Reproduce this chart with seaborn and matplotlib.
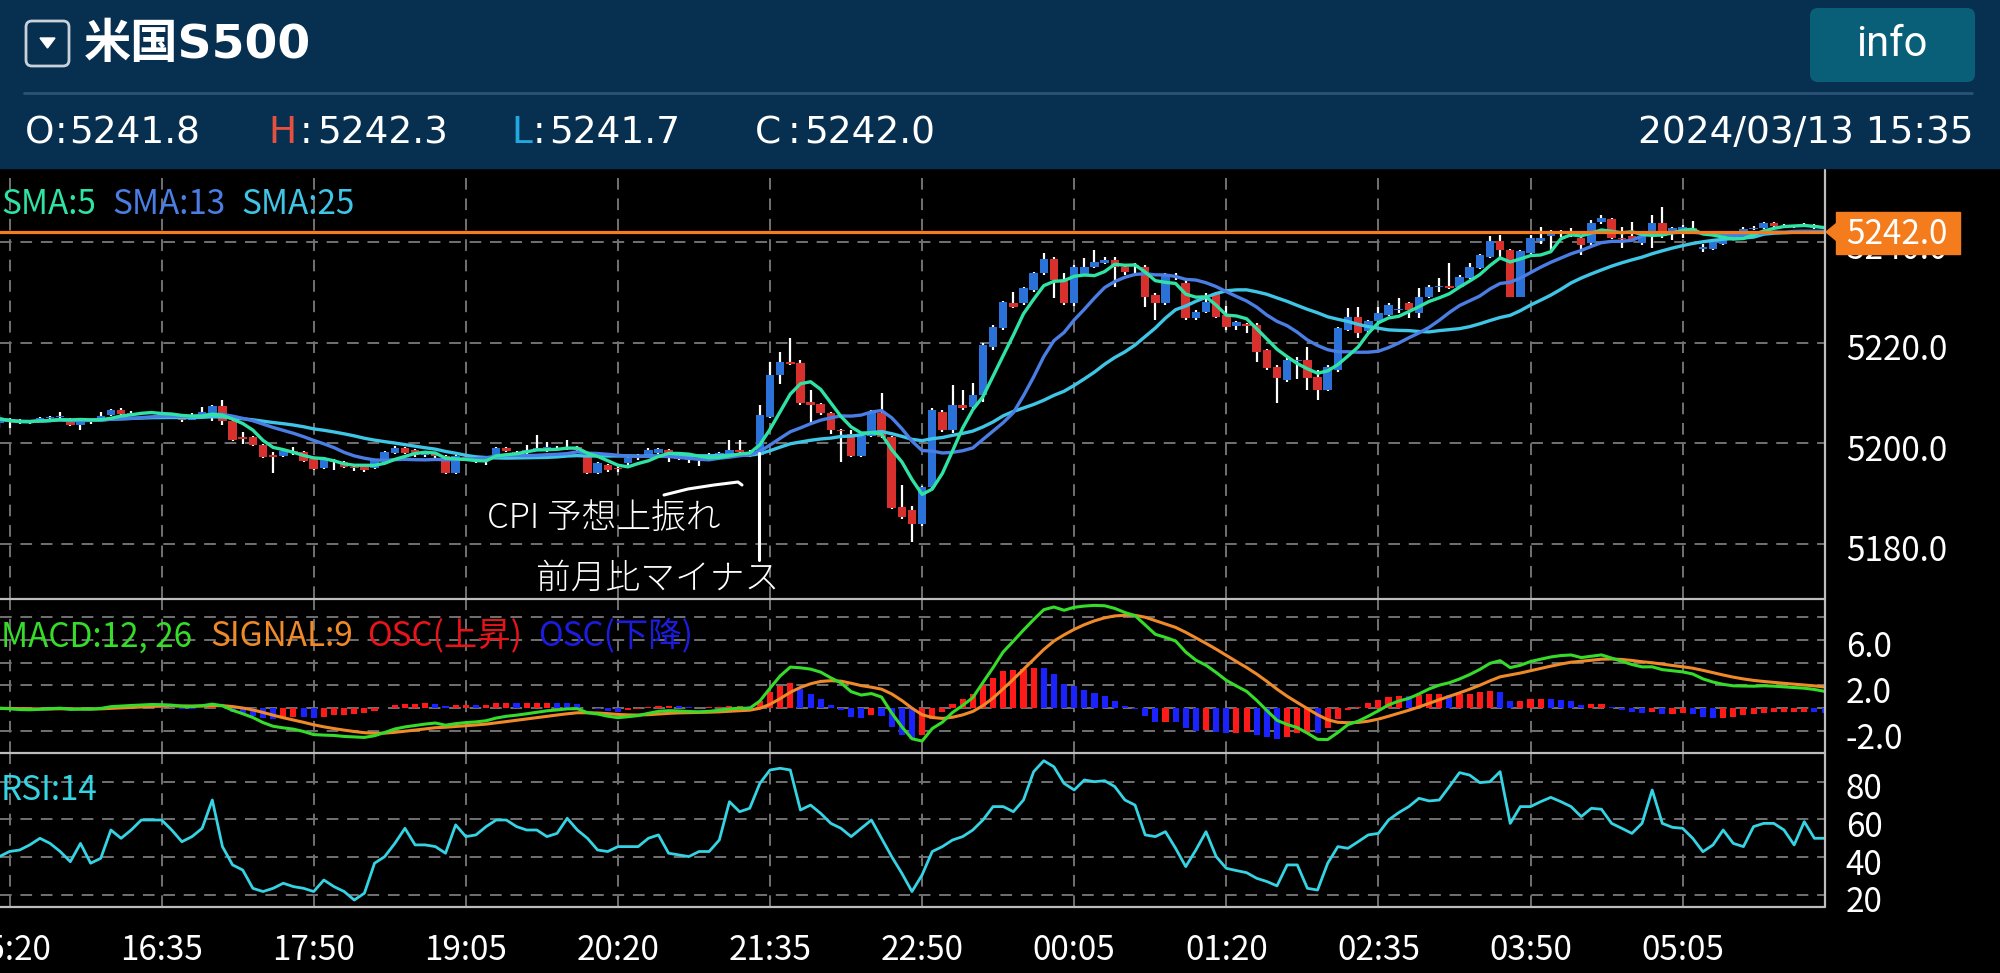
import numpy as np
import pandas as pd
import matplotlib
matplotlib.use("Agg")
import matplotlib.pyplot as plt
from matplotlib.patches import Rectangle, FancyBboxPatch, Polygon
from matplotlib.transforms import ScaledTranslation
import seaborn as sns

# ---------------- data (5-minute candles, index 0 = 15:20) ----------------
FIRST_INDEX = -1
OPEN = [
    5204.0, 5204.5, 5204.5, 5204.0, 5204.3, 5204.9, 5205.2, 5204.8, 5203.6, 5204.3, 5204.6,
    5205.6, 5206.6, 5205.8, 5205.9, 5206.0, 5206.0, 5205.5, 5205.1, 5204.6, 5205.4,
    5205.9, 5207.4, 5204.3, 5201.2, 5201.3, 5199.6, 5197.6, 5197.4, 5198.4, 5198.3,
    5196.8, 5195.0, 5196.4, 5196.3, 5195.3, 5195.4, 5195.0, 5196.6, 5198.0, 5199.1,
    5198.6, 5197.6, 5197.8, 5197.4, 5194.0, 5197.3, 5196.9, 5197.0, 5197.6, 5199.1,
    5198.3, 5198.2, 5198.8, 5199.0, 5199.1, 5198.9, 5199.2, 5197.2, 5194.0, 5195.6,
    5195.0, 5196.0, 5197.2, 5197.6, 5198.1, 5198.7, 5197.3, 5196.7, 5196.6, 5196.9,
    5197.2, 5197.9, 5198.7, 5198.3, 5197.6, 5205.2, 5213.5, 5216.2, 5216.0, 5208.2,
    5207.7, 5205.9, 5202.6, 5201.8, 5197.4, 5201.5, 5205.9, 5201.3, 5187.3, 5186.7,
    5184.0, 5191.3, 5206.2, 5202.6, 5207.6, 5207.2, 5209.5, 5219.2, 5222.8, 5227.9,
    5227.8, 5230.4, 5233.8, 5236.7, 5232.4, 5227.8, 5233.4, 5235.1, 5235.8, 5236.4,
    5235.1, 5235.3, 5235.1, 5229.5, 5227.8, 5233.2, 5231.8, 5224.8, 5226.1, 5229.8,
    5225.5, 5223.2, 5223.6, 5223.5, 5218.5, 5215.2, 5212.5, 5216.3, 5216.5, 5213.2,
    5210.6, 5214.5, 5222.5, 5225.1, 5222.2, 5224.2, 5225.5, 5226.5, 5227.8, 5225.8,
    5229.1, 5231.0, 5231.3, 5231.1, 5232.8, 5234.8, 5237.1, 5240.1, 5238.4, 5229.1,
    5237.8, 5240.1, 5241.1, 5241.5, 5242.0, 5240.7, 5239.7, 5244.0, 5244.5, 5240.8,
    5241.1, 5239.7, 5241.7, 5243.7, 5242.1, 5242.1, 5242.7, 5238.6, 5238.5, 5239.6,
    5240.8, 5241.5, 5242.6, 5242.8, 5243.7, 5243.2, 5243.0, 5243.2, 5243.3, 5241.8,
]
HIGH = [
    5205.5, 5205.0, 5204.7, 5204.4, 5205.2, 5205.4, 5206.2, 5204.9, 5204.9, 5204.8, 5206.2,
    5206.8, 5206.9, 5206.3, 5206.2, 5206.4, 5206.2, 5205.7, 5205.3, 5206.0, 5207.2,
    5207.6, 5208.6, 5204.5, 5202.3, 5201.5, 5199.8, 5198.3, 5198.8, 5199.3, 5198.5,
    5197.0, 5197.3, 5196.8, 5196.5, 5195.6, 5195.6, 5196.8, 5198.5, 5199.4, 5199.3,
    5198.9, 5198.3, 5198.2, 5197.6, 5197.6, 5197.6, 5197.0, 5197.3, 5199.2, 5199.3,
    5198.5, 5199.6, 5201.6, 5200.3, 5199.4, 5200.6, 5199.4, 5197.6, 5196.2, 5195.8,
    5195.3, 5197.2, 5197.9, 5199.0, 5199.1, 5198.9, 5197.4, 5196.9, 5196.9, 5198.1,
    5198.3, 5200.6, 5200.6, 5198.6, 5207.6, 5216.2, 5218.2, 5220.8, 5216.6, 5210.5,
    5208.0, 5206.2, 5202.9, 5202.6, 5201.8, 5206.6, 5209.9, 5201.5, 5191.6, 5187.5,
    5191.5, 5207.0, 5206.6, 5211.5, 5210.5, 5211.9, 5220.0, 5223.5, 5228.3, 5230.1,
    5231.1, 5234.1, 5237.7, 5237.0, 5233.8, 5235.4, 5236.8, 5238.4, 5237.1, 5237.0,
    5235.4, 5235.8, 5235.4, 5229.8, 5233.8, 5233.8, 5232.4, 5226.4, 5229.8, 5230.1,
    5227.3, 5224.3, 5223.8, 5223.8, 5218.8, 5215.5, 5216.9, 5217.2, 5219.2, 5214.5,
    5215.5, 5223.1, 5226.8, 5227.1, 5224.5, 5227.1, 5227.8, 5228.8, 5228.1, 5230.8,
    5231.4, 5232.8, 5235.8, 5233.4, 5235.8, 5237.6, 5241.1, 5241.4, 5238.6, 5238.3,
    5241.4, 5243.0, 5242.4, 5242.3, 5242.7, 5241.2, 5244.4, 5245.4, 5244.8, 5243.0,
    5244.0, 5241.3, 5245.4, 5247.0, 5243.0, 5243.3, 5244.2, 5239.6, 5240.2, 5240.8,
    5241.5, 5242.9, 5243.1, 5243.9, 5243.9, 5243.5, 5243.4, 5243.8, 5243.5, 5242.3,
]
LOW = [
    5203.0, 5203.0, 5203.7, 5203.8, 5204.1, 5204.7, 5205.0, 5203.3, 5202.7, 5203.8, 5204.4,
    5205.4, 5205.6, 5205.5, 5205.6, 5205.8, 5205.3, 5205.0, 5204.2, 5204.5, 5205.2,
    5204.3, 5203.6, 5200.5, 5199.9, 5199.4, 5197.0, 5194.0, 5197.2, 5197.6, 5196.3,
    5194.6, 5194.8, 5194.6, 5195.0, 5194.5, 5194.3, 5194.8, 5196.4, 5197.8, 5197.9,
    5197.3, 5197.2, 5197.0, 5193.8, 5193.8, 5196.5, 5196.0, 5195.6, 5197.4, 5198.3,
    5197.6, 5197.6, 5198.6, 5198.3, 5198.6, 5198.6, 5198.4, 5193.8, 5193.8, 5194.3,
    5194.3, 5195.7, 5196.6, 5197.4, 5197.9, 5196.3, 5196.6, 5196.0, 5195.4, 5196.6,
    5197.0, 5197.3, 5197.9, 5197.3, 5197.4, 5205.0, 5211.8, 5215.6, 5207.6, 5203.9,
    5205.6, 5201.9, 5196.3, 5197.3, 5197.2, 5201.3, 5201.0, 5186.8, 5185.0, 5180.4,
    5183.5, 5191.0, 5202.3, 5202.0, 5206.5, 5206.9, 5208.2, 5218.5, 5222.5, 5226.8,
    5227.5, 5230.1, 5233.5, 5228.8, 5227.5, 5227.3, 5233.2, 5234.9, 5235.6, 5231.1,
    5233.5, 5233.4, 5227.0, 5224.5, 5227.5, 5232.4, 5224.5, 5224.5, 5225.8, 5224.8,
    5222.5, 5222.5, 5221.8, 5216.2, 5214.6, 5207.9, 5212.2, 5212.8, 5210.6, 5208.6,
    5210.4, 5214.2, 5222.2, 5220.8, 5221.6, 5224.0, 5225.2, 5225.8, 5224.8, 5224.8,
    5228.8, 5230.1, 5230.6, 5230.9, 5232.6, 5234.6, 5236.9, 5237.1, 5229.0, 5229.0,
    5237.6, 5239.6, 5238.4, 5241.0, 5241.0, 5237.4, 5239.4, 5243.6, 5240.5, 5238.7,
    5240.2, 5239.4, 5238.7, 5240.8, 5240.4, 5240.7, 5241.9, 5238.0, 5238.3, 5239.4,
    5240.5, 5241.3, 5242.3, 5242.6, 5242.9, 5242.8, 5242.7, 5242.9, 5242.5, 5241.7,
]
CLOSE = [
    5204.8, 5204.2, 5203.9, 5204.2, 5204.9, 5205.1, 5205.3, 5203.5, 5204.7, 5204.5, 5205.3,
    5206.6, 5205.8, 5205.9, 5206.0, 5206.1, 5205.6, 5205.3, 5204.5, 5205.3, 5206.2,
    5207.4, 5204.3, 5200.7, 5200.9, 5199.6, 5197.2, 5197.3, 5198.5, 5198.2, 5196.5,
    5194.8, 5196.6, 5196.3, 5195.2, 5195.1, 5194.7, 5196.6, 5198.3, 5199.1, 5198.1,
    5197.6, 5197.8, 5197.5, 5194.0, 5197.4, 5197.0, 5196.7, 5197.2, 5199.0, 5198.5,
    5198.1, 5198.6, 5199.0, 5199.2, 5198.9, 5199.3, 5198.6, 5194.0, 5196.0, 5194.6,
    5194.8, 5197.0, 5197.3, 5198.7, 5198.9, 5197.9, 5196.9, 5196.6, 5196.7, 5197.4,
    5198.1, 5198.7, 5198.3, 5197.6, 5205.6, 5213.5, 5216.2, 5215.8, 5207.9, 5207.6,
    5205.9, 5202.7, 5202.4, 5197.5, 5201.5, 5206.2, 5201.3, 5187.0, 5185.4, 5184.0,
    5191.3, 5206.6, 5202.6, 5207.6, 5206.9, 5209.5, 5219.5, 5223.1, 5228.1, 5227.1,
    5230.8, 5233.8, 5236.7, 5232.4, 5227.8, 5235.1, 5235.1, 5236.1, 5236.4, 5235.1,
    5234.1, 5235.4, 5229.1, 5227.8, 5233.4, 5233.0, 5224.8, 5226.1, 5228.1, 5225.1,
    5223.1, 5224.0, 5223.3, 5218.2, 5214.9, 5212.9, 5216.6, 5216.5, 5212.9, 5210.6,
    5215.2, 5222.8, 5225.1, 5221.8, 5224.2, 5225.8, 5227.5, 5226.7, 5226.5, 5229.1,
    5231.0, 5231.1, 5230.8, 5233.1, 5235.1, 5237.4, 5240.1, 5238.4, 5229.1, 5238.1,
    5240.7, 5240.7, 5241.7, 5242.0, 5242.1, 5239.4, 5243.7, 5244.7, 5240.7, 5240.6,
    5240.4, 5241.1, 5243.7, 5241.1, 5242.7, 5243.0, 5242.1, 5239.0, 5240.0, 5240.6,
    5241.2, 5242.6, 5242.8, 5243.7, 5243.2, 5243.0, 5243.2, 5243.3, 5242.7, 5242.0,
]
RSI = [
    40.3, 43.0, 43.8, 46.5, 50.0, 47.3, 43.0, 37.6, 47.3, 36.8, 39.4,
    54.4, 50.0, 54.4, 59.7, 59.7, 59.7, 54.4, 48.2, 50.9, 55.3,
    70.3, 45.6, 35.9, 33.2, 23.5, 21.8, 23.5, 26.2, 24.4, 23.5,
    21.8, 27.9, 24.4, 21.8, 17.3, 20.9, 36.8, 40.3, 47.3, 55.3,
    46.5, 46.5, 45.6, 42.1, 57.1, 50.9, 51.8, 56.2, 59.7, 59.7,
    56.2, 54.4, 54.4, 50.9, 52.6, 60.6, 54.4, 50.0, 43.8, 43.0,
    45.6, 45.6, 45.6, 50.0, 51.8, 42.1, 41.2, 40.3, 43.0, 43.0,
    49.1, 69.4, 64.1, 65.9, 79.1, 86.2, 87.1, 86.2, 65.0, 67.6,
    63.2, 57.9, 55.3, 50.9, 55.3, 59.7, 50.0, 40.3, 31.5, 21.8,
    30.6, 43.0, 45.6, 49.1, 50.9, 54.4, 59.7, 66.8, 66.8, 64.1,
    70.3, 85.3, 91.1, 87.9, 79.1, 75.6, 80.9, 80.0, 80.5, 77.4,
    70.3, 67.6, 51.8, 50.9, 53.5, 44.7, 35.0, 43.8, 53.5, 40.3,
    34.1, 32.9, 31.8, 28.8, 27.1, 24.8, 35.9, 35.9, 23.5, 22.6,
    36.8, 45.6, 44.7, 48.2, 51.8, 52.6, 59.7, 63.6, 66.8, 71.2,
    69.8, 70.3, 77.4, 84.8, 83.5, 79.5, 80.0, 85.3, 57.9, 66.8,
    66.8, 69.4, 71.7, 69.4, 66.8, 61.5, 65.9, 65.4, 57.9, 55.3,
    52.6, 57.9, 75.6, 57.9, 55.8, 55.3, 50.0, 42.9, 46.5, 54.4,
    47.3, 45.6, 56.2, 57.9, 57.9, 54.4, 46.5, 58.8, 50.0, 50.0,
]
TIME_LABELS = ["15:20", "16:35", "17:50", "19:05", "20:20", "21:35",
               "22:50", "00:05", "01:20", "02:35", "03:50", "05:05"]
CANDLES_PER_LABEL = 15
PRICE_TICKS = [5180.0, 5200.0, 5220.0, 5240.0]
MACD_GRID = [-2.0, 0.0, 2.0, 4.0, 6.0, 8.0]
MACD_LABELED = [6.0, 2.0, -2.0]
RSI_TICKS = [20, 40, 60, 80]
LAST_PRICE = 5242.0
HEADER_OHLC = [("O", "5241.8"), ("H", "5242.3"), ("L", "5241.7"), ("C", "5242.0")]
TITLE = "米国S500"
STAMP = "2024/03/13 15:35"
NOTE_LINES = ["CPI 予想上振れ", "前月比マイナス"]

# ---------------- indicators ----------------
df = pd.DataFrame({"i": np.arange(len(CLOSE)) + FIRST_INDEX,
                   "open": OPEN, "high": HIGH, "low": LOW, "close": CLOSE, "rsi": RSI})
for n in (5, 13, 25):
    df[f"sma{n}"] = df["close"].rolling(n, min_periods=1).mean()
ema12 = df["close"].ewm(span=12, adjust=False).mean()
ema26 = df["close"].ewm(span=26, adjust=False).mean()
df["macd"] = ema12 - ema26
df["signal"] = df["macd"].ewm(span=9, adjust=False).mean()
df["osc"] = df["macd"] - df["signal"]

# ---------------- style ----------------
sns.set_style("dark", {"axes.facecolor": "black", "figure.facecolor": "black"})
plt.rcParams["font.family"] = ["Noto Sans CJK JP", "DejaVu Sans"]

W, H = 2000, 973
fig = plt.figure(figsize=(20, 9.73), dpi=100)
fig.patch.set_facecolor("black")


def rect(x0, y0, x1, y1):
    return [x0 / W, 1 - y1 / H, (x1 - x0) / W, (y1 - y0) / H]


PLOT_R = 1825
ax_p = fig.add_axes(rect(0, 170, PLOT_R, 598))
ax_m = fig.add_axes(rect(0, 600, PLOT_R, 753))
ax_r = fig.add_axes(rect(0, 753, PLOT_R, 907))

XMIN, XMAX = -9.5 / 10.14, (PLOT_R - 9.5) / 10.14
tick_pos = [k * CANDLES_PER_LABEL for k in range(len(TIME_LABELS))]

BLUE, RED = "#2a72d8", "#d8302c"
C_SMA5, C_SMA13, C_SMA25 = "#2fe3a4", "#4a7ee4", "#3fc6e6"
C_MACD, C_SIG = "#35dc2a", "#f08a28"
C_RSI = "#34d4e4"
GRID = dict(color="#727272", linestyle=(0, (6, 4.5)), linewidth=1.4)

# candles
up = df["close"] >= df["open"]
ax_p.vlines(df["i"], df["low"], df["high"], color="white", linewidth=1.6, zorder=2)
body_lo = np.minimum(df["open"], df["close"])
body_h = (df["close"] - df["open"]).abs().clip(lower=0.18)
ax_p.bar(df["i"], body_h, bottom=body_lo, width=0.84,
         color=np.where(up, BLUE, RED), linewidth=0, zorder=3)
for col, c in (("sma25", C_SMA25), ("sma13", C_SMA13), ("sma5", C_SMA5)):
    sns.lineplot(x=df["i"], y=df[col], ax=ax_p, color=c, linewidth=2.4, zorder=4)
ax_p.axhline(LAST_PRICE, color="#f47c1c", linewidth=2.3, zorder=5)
ax_p.set_ylim(5169.2, 5254.3)
ax_p.set_yticks(PRICE_TICKS)
ax_p.set_yticklabels([f"{v:.1f}" for v in PRICE_TICKS])

# MACD
osc_up = df["osc"].diff().fillna(-1) > 0
ax_m.bar(df["i"], df["osc"], width=0.6, color=np.where(osc_up, "#ff1a1a", "#1a22ff"),
         linewidth=0, zorder=3)
sns.lineplot(x=df["i"], y=df["signal"], ax=ax_m, color=C_SIG, linewidth=2.2, zorder=4)
sns.lineplot(x=df["i"], y=df["macd"], ax=ax_m, color=C_MACD, linewidth=2.2, zorder=5)
ax_m.set_ylim(-3.91, 9.47)
ax_m.set_yticks(MACD_GRID)
ax_m.set_yticklabels([f"{v:.1f}" if v in MACD_LABELED else "" for v in MACD_GRID])

# RSI
sns.lineplot(x=df["i"], y=df["rsi"], ax=ax_r, color=C_RSI, linewidth=2.0, zorder=4)
ax_r.set_ylim(13.6, 95.2)
ax_r.set_yticks(RSI_TICKS)
ax_r.set_yticklabels([str(v) for v in RSI_TICKS])

for ax in (ax_p, ax_m, ax_r):
    ax.set_facecolor("black")
    for s in ax.spines.values():
        s.set_visible(False)
    ax.set_xlim(XMIN, XMAX)
    ax.set_xticks(tick_pos)
    ax.set_xticklabels(TIME_LABELS)
    ax.grid(True, **GRID)
    ax.set_axisbelow(True)
    ax.yaxis.tick_right()
    ax.tick_params(axis="both", length=0, colors="white", labelsize=24)
    ax.tick_params(axis="y", pad=15)
    ax.tick_params(axis="x", labelbottom=False, pad=19)
    ax.set_xlabel("")
    ax.set_ylabel("")
ax_r.tick_params(axis="x", labelbottom=True)

shift = ScaledTranslation(0, -0.04, fig.dpi_scale_trans)
for ax in (ax_p, ax_m, ax_r):
    for t in ax.yaxis.get_major_ticks():
        t.label2.set_transform(t.label2.get_transform() + shift)

# ---------------- overlay in pixel coordinates ----------------
ov = fig.add_axes([0, 0, 1, 1], zorder=10)
ov.set_xlim(0, W)
ov.set_ylim(H, 0)
ov.axis("off")
ov.patch.set_alpha(0)

# header
ov.add_patch(Rectangle((0, 0), W, 168, color="#062f50", zorder=1))
ov.plot([24, 1972], [93, 93], color="#2c5276", linewidth=2, zorder=2)
ov.add_patch(FancyBboxPatch((26, 21), 43, 45, boxstyle="round,pad=0,rounding_size=6",
                            facecolor="none", edgecolor="#c9d2dc", linewidth=2, zorder=3))
ov.add_patch(Polygon([[40, 38], [55, 38], [47.5, 48]], closed=True, color="white", zorder=3))
ov.text(84, 45, TITLE, color="white", fontsize=34, fontweight="bold",
        family=["DejaVu Sans", "Noto Sans CJK JP"], va="center", ha="left", zorder=4)
ov.add_patch(FancyBboxPatch((1810, 8), 165, 74, boxstyle="round,pad=0,rounding_size=8",
                            facecolor="#0a5f78", edgecolor="none", zorder=3))
ov.text(1892, 44, "info", color="white", fontsize=30, family="Roboto", va="center", ha="center", zorder=4)

hdr_font = dict(fontsize=27, family="DejaVu Sans", va="center", zorder=4)
letter_pos = [(25, 61, 69), (268, 306, 317), (511, 539, 549), (755, 794, 804)]
letter_c = ["white", "#e5503f", "#22a8e0", "white"]
for (lab, val), (xl, xc, xd), c in zip(HEADER_OHLC, letter_pos, letter_c):
    ov.text(xl, 133, lab, color=c, ha="left", **hdr_font)
    ov.text(xc, 133, ":", color="white", ha="center", **hdr_font)
    ov.text(xd, 133, val, color="white", ha="left", **hdr_font)
ov.text(1973, 133, STAMP, color="white", ha="right", **hdr_font)

# panel separators
for yy in (598.5, 753, 907):
    ov.plot([0, PLOT_R], [yy, yy], color="#bdbdbd", linewidth=1.6, zorder=2)
ov.plot([PLOT_R, PLOT_R], [170, 907], color="#bdbdbd", linewidth=1.6, zorder=2)

# last price tag
py = 232
ov.add_patch(Rectangle((1836, 212), 124, 42, color="#f47c1c", zorder=3))
ov.add_patch(Polygon([[1826, py], [1837, py - 9], [1837, py + 9]], closed=True, color="#f47c1c", zorder=3))
ov.text(1846, 234, f"{LAST_PRICE:.1f}", color="white", fontsize=24, va="center", ha="left", zorder=4)


# panel legends
def legend_row(y, items):
    for x, txt, c in items:
        ov.text(x, y, txt, color=c, fontsize=24, va="center", ha="left", zorder=4)


legend_row(205, [(1, "SMA:5", C_SMA5), (112, "SMA:13", C_SMA13), (241, "SMA:25", C_SMA25)])
legend_row(637, [(1, "MACD:12, 26", C_MACD), (210, "SIGNAL:9", C_SIG),
                 (367, "OSC(上昇)", "#e8141a"), (538, "OSC(下降)", "#1c1ce0")])
legend_row(790, [(1, "RSI:14", C_RSI)])

# handwritten note
ov.text(487, 518, NOTE_LINES[0], color="white", fontsize=25, fontweight="light",
        va="center", ha="left", zorder=4)
ov.text(536, 579, NOTE_LINES[1], color="white", fontsize=25, fontweight="light",
        va="center", ha="left", zorder=4)
ov.plot([664, 688, 714, 738, 742], [495, 489, 485, 482, 485], color="white", linewidth=2.2,
        solid_capstyle="round", zorder=4)
ov.plot([759, 759], [453, 560], color="white", linewidth=2.2, zorder=4)

fig.savefig("out.png", dpi=100, facecolor="black")
